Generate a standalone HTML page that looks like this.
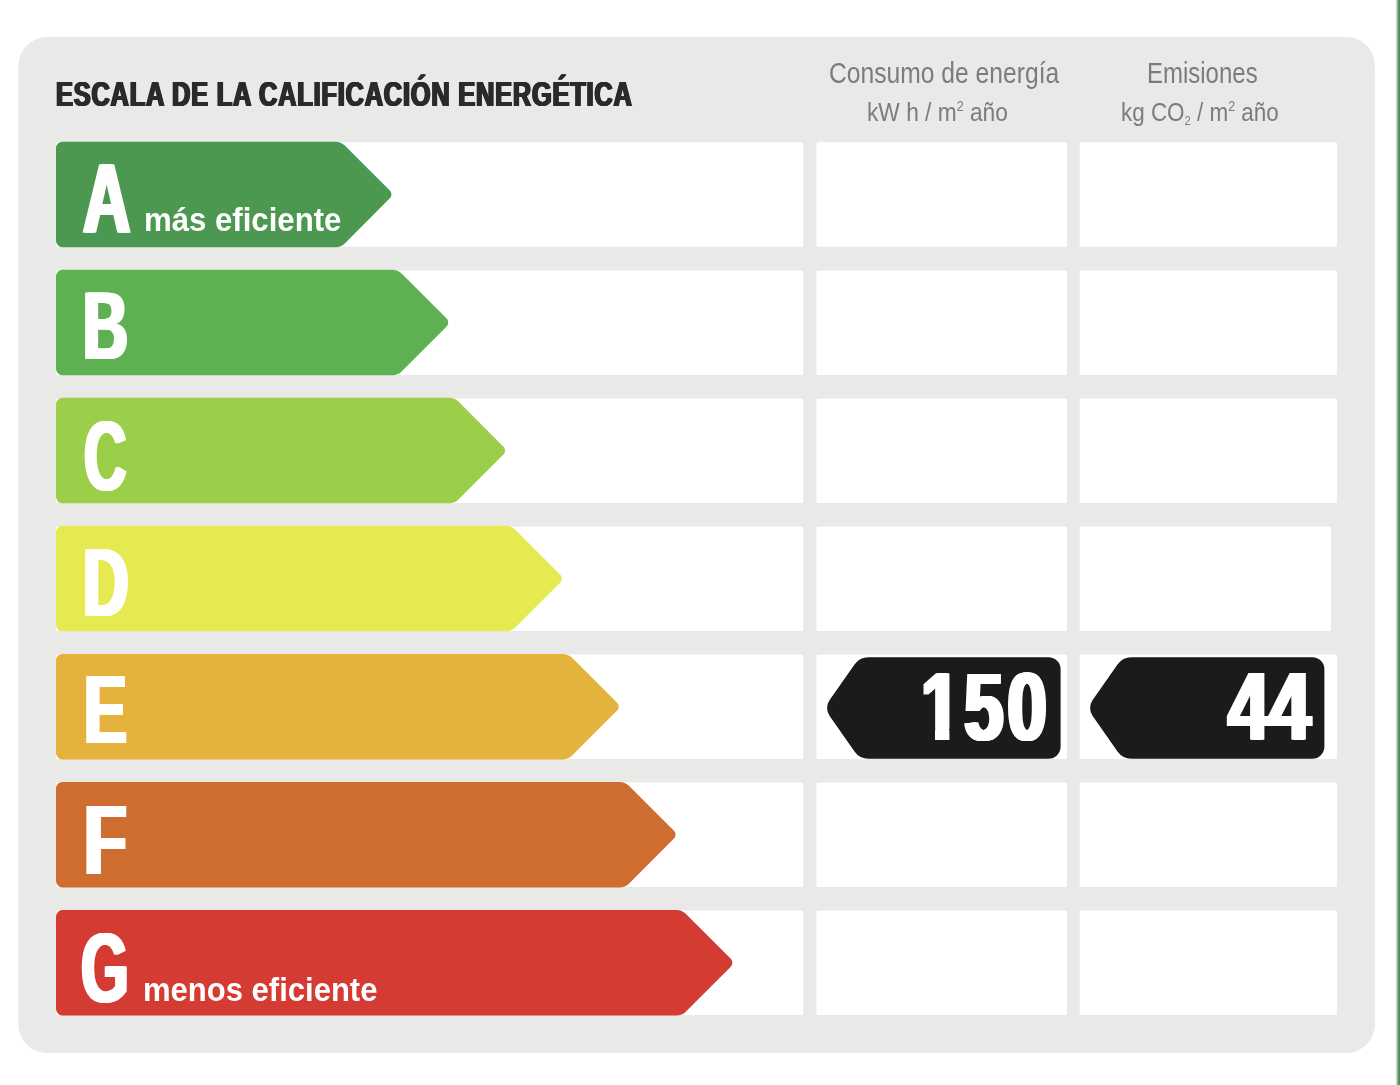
<!DOCTYPE html>
<html lang="es"><head><meta charset="utf-8"><title>Escala de la calificación energética</title>
<style>
html,body{margin:0;padding:0;background:#fff;}
body{width:1400px;height:1085px;position:relative;overflow:hidden;font-family:"Liberation Sans",sans-serif;}
.bg{position:absolute;left:0;top:0;display:block;}
.t{position:absolute;white-space:nowrap;line-height:1;transform-origin:0 0;margin:0;padding:0;}
.title{font-weight:bold;color:#2a2a2a;}
.let{font-weight:bold;color:#fff;}
.sub{font-weight:bold;color:#fff;}
.hd{color:#7c7c7c;}
.num{font-weight:bold;color:#fff;}
sup,sub{line-height:0;}
.one{display:inline-block;clip-path:polygon(-10px 0,80px 0,80px 72.6%,calc(0.3675em + 3px) 72.6%,calc(0.3675em + 3px) 100%,calc(0.2325em - 3px) 100%,calc(0.2325em - 3px) 72.6%,-10px 72.6%);}
</style></head>
<body>
<svg class="bg" width="1400" height="1085" viewBox="0 0 1400 1085">
<rect x="18.3" y="37" width="1356.8" height="1015.9" rx="29" ry="29" fill="#e9e9e7"/>
<rect x="1395" y="0" width="1" height="1085" fill="#eef9ee"/>
<rect x="1396" y="0" width="1" height="1085" fill="#c8e1cc"/>
<rect x="1397" y="0" width="1" height="1085" fill="#8fb998"/>
<rect x="1398" y="0" width="1" height="1085" fill="#5f9369"/>
<rect x="1399" y="0" width="1" height="1085" fill="#51885c"/>
<rect x="56.0" y="142.3" width="747.2" height="104.5" rx="1.5" fill="#ffffff"/>
<rect x="816.5" y="142.3" width="250.5" height="104.5" rx="1.5" fill="#ffffff"/>
<rect x="1079.7" y="142.3" width="257.3" height="104.5" rx="1.5" fill="#ffffff"/>
<path d="M56.00 148.20A6.50 6.50 0 0 1 62.50 141.70L335.57 141.70A13.00 13.00 0 0 1 344.76 145.51L389.81 190.56A5.50 5.50 0 0 1 389.81 198.34L344.76 243.39A13.00 13.00 0 0 1 335.57 247.20L62.50 247.20A6.50 6.50 0 0 1 56.00 240.70Z" fill="#4d9850"/>
<rect x="56.0" y="270.4" width="747.2" height="104.5" rx="1.5" fill="#ffffff"/>
<rect x="816.5" y="270.4" width="250.5" height="104.5" rx="1.5" fill="#ffffff"/>
<rect x="1079.7" y="270.4" width="257.3" height="104.5" rx="1.5" fill="#ffffff"/>
<path d="M56.00 276.25A6.50 6.50 0 0 1 62.50 269.75L392.40 269.75A13.00 13.00 0 0 1 401.59 273.56L446.64 318.61A5.50 5.50 0 0 1 446.64 326.39L401.59 371.44A13.00 13.00 0 0 1 392.40 375.25L62.50 375.25A6.50 6.50 0 0 1 56.00 368.75Z" fill="#5eb150"/>
<rect x="56.0" y="398.4" width="747.2" height="104.5" rx="1.5" fill="#ffffff"/>
<rect x="816.5" y="398.4" width="250.5" height="104.5" rx="1.5" fill="#ffffff"/>
<rect x="1079.7" y="398.4" width="257.3" height="104.5" rx="1.5" fill="#ffffff"/>
<path d="M56.00 404.30A6.50 6.50 0 0 1 62.50 397.80L449.23 397.80A13.00 13.00 0 0 1 458.42 401.61L503.47 446.66A5.50 5.50 0 0 1 503.47 454.44L458.42 499.49A13.00 13.00 0 0 1 449.23 503.30L62.50 503.30A6.50 6.50 0 0 1 56.00 496.80Z" fill="#9bce49"/>
<rect x="56.0" y="526.5" width="747.2" height="104.5" rx="1.5" fill="#ffffff"/>
<rect x="816.5" y="526.5" width="250.5" height="104.5" rx="1.5" fill="#ffffff"/>
<rect x="1079.7" y="526.5" width="251.3" height="104.5" rx="1.5" fill="#ffffff"/>
<path d="M56.00 532.35A6.50 6.50 0 0 1 62.50 525.85L506.06 525.85A13.00 13.00 0 0 1 515.25 529.66L560.30 574.71A5.50 5.50 0 0 1 560.30 582.49L515.25 627.54A13.00 13.00 0 0 1 506.06 631.35L62.50 631.35A6.50 6.50 0 0 1 56.00 624.85Z" fill="#e5ea50"/>
<rect x="56.0" y="654.5" width="747.2" height="104.5" rx="1.5" fill="#ffffff"/>
<rect x="816.5" y="654.5" width="250.5" height="104.5" rx="1.5" fill="#ffffff"/>
<rect x="1079.7" y="654.5" width="257.3" height="104.5" rx="1.5" fill="#ffffff"/>
<path d="M56.00 660.40A6.50 6.50 0 0 1 62.50 653.90L562.89 653.90A13.00 13.00 0 0 1 572.08 657.71L617.13 702.76A5.50 5.50 0 0 1 617.13 710.54L572.08 755.59A13.00 13.00 0 0 1 562.89 759.40L62.50 759.40A6.50 6.50 0 0 1 56.00 752.90Z" fill="#e5b23e"/>
<rect x="56.0" y="782.6" width="747.2" height="104.5" rx="1.5" fill="#ffffff"/>
<rect x="816.5" y="782.6" width="250.5" height="104.5" rx="1.5" fill="#ffffff"/>
<rect x="1079.7" y="782.6" width="257.3" height="104.5" rx="1.5" fill="#ffffff"/>
<path d="M56.00 788.45A6.50 6.50 0 0 1 62.50 781.95L619.72 781.95A13.00 13.00 0 0 1 628.91 785.76L673.96 830.81A5.50 5.50 0 0 1 673.96 838.59L628.91 883.64A13.00 13.00 0 0 1 619.72 887.45L62.50 887.45A6.50 6.50 0 0 1 56.00 880.95Z" fill="#cf6c30"/>
<rect x="56.0" y="910.6" width="747.2" height="104.5" rx="1.5" fill="#ffffff"/>
<rect x="816.5" y="910.6" width="250.5" height="104.5" rx="1.5" fill="#ffffff"/>
<rect x="1079.7" y="910.6" width="257.3" height="104.5" rx="1.5" fill="#ffffff"/>
<path d="M56.00 916.50A6.50 6.50 0 0 1 62.50 910.00L676.55 910.00A13.00 13.00 0 0 1 685.74 913.81L730.79 958.86A5.50 5.50 0 0 1 730.79 966.64L685.74 1011.69A13.00 13.00 0 0 1 676.55 1015.50L62.50 1015.50A6.50 6.50 0 0 1 56.00 1009.00Z" fill="#d43b33"/>
<path d="M854.52 664.54A17.00 17.00 0 0 1 868.44 657.30L1048.60 657.30A12.00 12.00 0 0 1 1060.60 669.30L1060.60 746.80A12.00 12.00 0 0 1 1048.60 758.80L868.44 758.80A17.00 17.00 0 0 1 854.52 751.56L829.64 716.09A14.00 14.00 0 0 1 829.64 700.01Z" fill="#1b1b1b"/>
<path d="M1117.52 664.54A17.00 17.00 0 0 1 1131.44 657.30L1312.40 657.30A12.00 12.00 0 0 1 1324.40 669.30L1324.40 746.80A12.00 12.00 0 0 1 1312.40 758.80L1131.44 758.80A17.00 17.00 0 0 1 1117.52 751.56L1092.64 716.09A14.00 14.00 0 0 1 1092.64 700.01Z" fill="#1b1b1b"/>
</svg>
<div class="t title" style="left:55.50px;top:76.07px;font-size:35px;transform:scaleX(0.725);letter-spacing:1.1px;text-shadow:0.7px 0 0 #2a2a2a,-0.7px 0 0 #2a2a2a,1.3px 0 0 #2a2a2a,-1.3px 0 0 #2a2a2a;">ESCALA DE LA CALIFICACIÓN ENERGÉTICA</div>
<div class="t let" style="left:82.50px;top:148.74px;font-size:98px;transform:scaleX(0.67);text-shadow:1.5px 0 0 #fff,-1.5px 0 0 #fff,3px 0 0 #fff,-3px 0 0 #fff;">A</div>
<div class="t let" style="left:82.50px;top:277.39px;font-size:97px;transform:scaleX(0.64);text-shadow:1.5px 0 0 #fff,-1.5px 0 0 #fff,3px 0 0 #fff,-3px 0 0 #fff;">B</div>
<div class="t let" style="left:84.00px;top:406.54px;font-size:98px;transform:scaleX(0.6);text-shadow:1.5px 0 0 #fff,-1.5px 0 0 #fff,3px 0 0 #fff,-3px 0 0 #fff;">C</div>
<div class="t let" style="left:82.50px;top:534.39px;font-size:97px;transform:scaleX(0.65);text-shadow:1.5px 0 0 #fff,-1.5px 0 0 #fff,3px 0 0 #fff,-3px 0 0 #fff;">D</div>
<div class="t let" style="left:83.50px;top:661.39px;font-size:97px;transform:scaleX(0.66);text-shadow:1.5px 0 0 #fff,-1.5px 0 0 #fff,3px 0 0 #fff,-3px 0 0 #fff;">E</div>
<div class="t let" style="left:83.50px;top:790.54px;font-size:98px;transform:scaleX(0.71);text-shadow:1.5px 0 0 #fff,-1.5px 0 0 #fff,3px 0 0 #fff,-3px 0 0 #fff;">F</div>
<div class="t let" style="left:81.10px;top:918.00px;font-size:99px;transform:scaleX(0.62);text-shadow:1.5px 0 0 #fff,-1.5px 0 0 #fff,3px 0 0 #fff,-3px 0 0 #fff;">G</div>
<div class="t sub" style="left:144.00px;top:203.27px;font-size:33px;transform:scaleX(0.944);">más eficiente</div>
<div class="t sub" style="left:143.00px;top:973.27px;font-size:33px;transform:scaleX(0.94);">menos eficiente</div>
<div class="t hd" style="left:828.60px;top:58.85px;font-size:29px;transform:scaleX(0.85);">Consumo de energía</div>
<div class="t hd" style="left:867.00px;top:100.44px;font-size:25px;transform:scaleX(0.909);">kW h / m<sup style="font-size:55%;vertical-align:0.75em">2</sup> año</div>
<div class="t hd" style="left:1146.60px;top:58.85px;font-size:29px;transform:scaleX(0.827);">Emisiones</div>
<div class="t hd" style="left:1120.60px;top:100.44px;font-size:25px;transform:scaleX(0.897);">kg CO<sub style="font-size:50%;vertical-align:-0.35em">2</sub> / m<sup style="font-size:55%;vertical-align:0.75em">2</sup> año</div>
<div class="t num" style="left:921.30px;top:658.91px;font-size:96.5px;transform:scaleX(0.73);text-shadow:1px 0 0 #fff,-1px 0 0 #fff,2px 0 0 #fff,-2px 0 0 #fff,3px 0 0 #fff,-3px 0 0 #fff;letter-spacing:5.6px;"><span class="one">1</span>50</div>
<div class="t num" style="left:1228.00px;top:658.91px;font-size:96.5px;transform:scaleX(0.77);text-shadow:1px 0 0 #fff,-1px 0 0 #fff,2px 0 0 #fff,-2px 0 0 #fff,3px 0 0 #fff,-3px 0 0 #fff;">44</div>
</body></html>
